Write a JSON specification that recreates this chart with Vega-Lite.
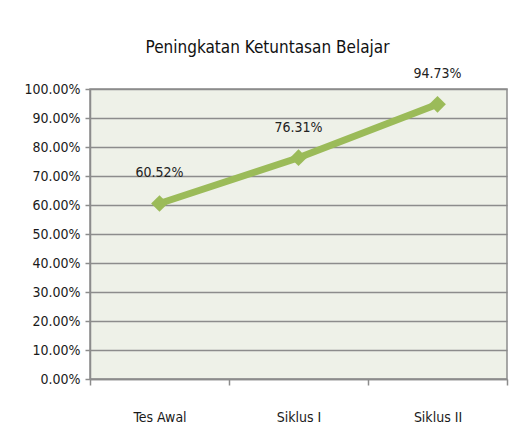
{
  "$schema": "https://vega.github.io/schema/vega-lite/v6.json",
  "autosize": "none",
  "width": 417,
  "height": 290,
  "padding": {"left": 90, "top": 89, "right": 3, "bottom": 67},
  "background": "white",
  "title": {
    "text": "Peningkatan Ketuntasan Belajar",
    "font": "DejaVu Sans Condensed, Liberation Sans, sans-serif",
    "fontSize": 17,
    "fontWeight": "normal",
    "color": "#111111",
    "anchor": "middle",
    "dx": -31,
    "offset": 10
  },
  "data": {
    "values": [
      {"tahap": "Tes Awal", "nilai": 0.6052},
      {"tahap": "Siklus I", "nilai": 0.7631},
      {"tahap": "Siklus II", "nilai": 0.9473}
    ]
  },
  "encoding": {
    "x": {
      "field": "tahap",
      "type": "nominal",
      "sort": null,
      "scale": {"type": "band", "paddingInner": 0, "paddingOuter": 0},
      "axis": {
        "title": null,
        "labelAngle": 0,
        "tickBand": "extent",
        "tickSize": 6,
        "tickColor": "#8c8c8c",
        "tickWidth": 1.5,
        "domainColor": "#8c8c8c",
        "domainWidth": 1.5,
        "labelPadding": 25,
        "labelFont": "DejaVu Sans Condensed, Liberation Sans, sans-serif",
        "labelFontSize": 14,
        "labelColor": "#1a1a1a",
        "grid": false
      }
    },
    "y": {
      "field": "nilai",
      "type": "quantitative",
      "scale": {"domain": [0, 1], "nice": false},
      "axis": {
        "title": null,
        "format": ".2%",
        "values": [0, 0.1, 0.2, 0.3, 0.4, 0.5, 0.6, 0.7, 0.8, 0.9, 1.0],
        "tickSize": 5,
        "tickColor": "#8c8c8c",
        "tickWidth": 1.5,
        "domainColor": "#8c8c8c",
        "domainWidth": 1.5,
        "gridColor": "#8c8c8c",
        "gridWidth": 1.5,
        "gridOpacity": 1,
        "labelPadding": 5,
        "labelFont": "DejaVu Sans Condensed, Liberation Sans, sans-serif",
        "labelFontSize": 14,
        "labelColor": "#1a1a1a"
      }
    }
  },
  "layer": [
    {
      "mark": {"type": "line", "color": "#9BBB59", "strokeWidth": 7}
    },
    {
      "mark": {"type": "point", "shape": "diamond", "filled": true, "color": "#9BBB59", "size": 280, "opacity": 1}
    },
    {
      "mark": {"type": "text", "dy": -30, "font": "DejaVu Sans Condensed, Liberation Sans, sans-serif", "fontSize": 14, "color": "#222222"},
      "encoding": {"text": {"field": "nilai", "type": "quantitative", "format": ".2%"}}
    }
  ],
  "config": {
    "view": {"fill": "#EEF1E8", "stroke": "#8c8c8c", "strokeWidth": 1.5}
  }
}
